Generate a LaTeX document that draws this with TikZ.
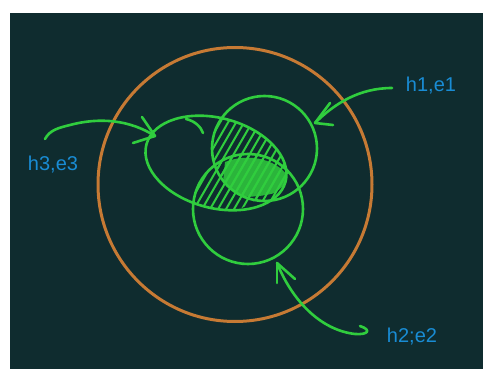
\documentclass[tikz,border=0pt]{standalone}
\usepackage{fontspec}
\setmainfont{Liberation Sans}
\definecolor{panel}{RGB}{15,44,47}
\definecolor{org}{RGB}{198,122,52}
\definecolor{grn}{RGB}{48,205,62}
\definecolor{lbl}{RGB}{25,140,212}
\begin{document}
\begin{tikzpicture}[x=1pt,y=-1pt,line cap=round,line join=round,
  gline/.style={draw=grn,line width=2.6pt},
  hatchline/.style={draw=grn,line width=2pt},
  lab/.style={text=lbl,font=\fontsize{20}{20}\selectfont,inner sep=0pt},
  ring/.style={circle,draw=grn,line width=2.6pt,inner sep=0pt}]
\useasboundingbox (0,0) rectangle (483,369);
\fill[white] (0,0) rectangle (483,369);
\fill[panel] (10,13) rectangle (483,369);
% outer orange circle
\node[circle,draw=org,line width=3pt,minimum size=274pt,inner sep=0pt] (outer) at (235,184.5) {};
% hatched region: ellipse and (h1 or h2)
\begin{scope}
  \clip[rotate around={-15:(216,163)}] (216,163) ellipse[x radius=72,y radius=45];
  \begin{scope}
    \clip (264.5,148.5) circle[radius=52.5];
    \foreach \i in {0,...,22} \draw[hatchline] (150+\i*8,230) -- (225+\i*8,100);
  \end{scope}
  \begin{scope}
    \clip (248,209) circle[radius=55];
    \clip (150,175) -- (240,140) -- (290,180) -- (230,215) -- (190,215) -- cycle;
    \foreach \i in {0,...,22} \draw[hatchline] (150+\i*8,230) -- (225+\i*8,100);
  \end{scope}
  \begin{scope}
    \clip (264.5,148.5) circle[radius=52.5];
    \clip (248,209) circle[radius=55];
    \fill[grn,opacity=0.85] (225,162) .. controls (250,152) and (280,160) .. (290,180)
      -- (275,193) .. controls (255,198) and (240,198) .. (222,192) -- cycle;
  \end{scope}
\end{scope}
% green shapes
\node[ring,minimum size=105pt] (c1) at (264.5,148.5) {};
\node[ring,minimum size=110pt] (c2) at (248,209) {};
\draw[gline,rotate around={-15:(216,163)}] (216,163) ellipse[x radius=72,y radius=45];
\coordinate (c3) at (216,163);
\draw[gline] (186,119) .. controls (195,121) and (201,127) .. (203,133);
% labels
\node[lab] (l1) at (431,86) {h1,e1};
\node[lab] (l3) at (53,165) {h3,e3};
\node[lab] (l2) at (412,337) {h2;e2};
% arrow ends
\coordinate (s1) at (392,88);
\coordinate (t1) at (315,123);
\coordinate (s3) at (45,139);
\coordinate (t3) at (155,136);
\coordinate (s2) at (360,326);
\coordinate (t2) at (277,263);
% h1 arrow
\draw[gline] (s1) .. controls (360,88) and (335,103) .. (t1);
\draw[gline] (t1) -- (330,103);
\draw[gline] (t1) -- (333,125);
% h3 arrow
\draw[gline] (s3) .. controls (50,130) and (58,128) .. (70,125) .. controls (100,117) and (130,120) .. (t3);
\draw[gline] (t3) -- (142,117);
\draw[gline] (t3) -- (133,143);
% h2 arrow
\draw[gline] (t2) .. controls (292,300) and (320,330) .. (355,334) .. controls (368,335) and (372,330) .. (s2);
\draw[gline] (t2) -- (277,283);
\draw[gline] (t2) -- (295,279);
\end{tikzpicture}
\end{document}
